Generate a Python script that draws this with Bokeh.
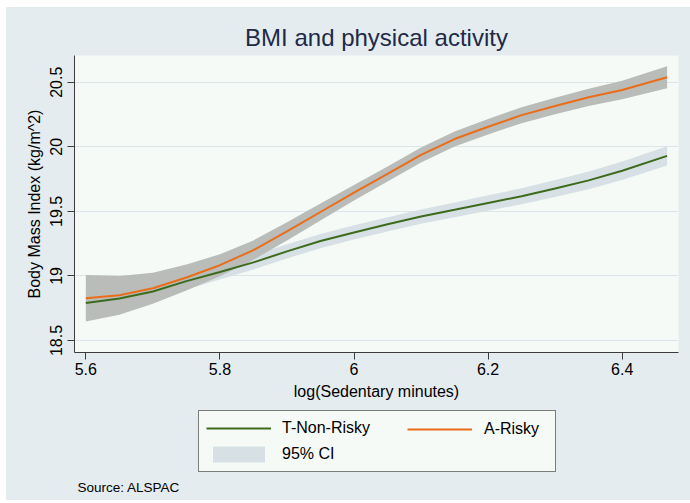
from bokeh.plotting import figure
from bokeh.models import Range1d, FixedTicker, Legend, LegendItem, Label
from bokeh.layouts import column
from bokeh.embed import file_html
from bokeh.resources import INLINE

# ---- data ----
sed_log = [5.6, 5.65, 5.7, 5.75, 5.8, 5.85, 5.9, 5.95, 6.0, 6.05, 6.1, 6.15, 6.2, 6.25, 6.3, 6.35, 6.4, 6.467]

nonrisky_fit = [18.79, 18.825, 18.88, 18.96, 19.03, 19.105, 19.19, 19.27, 19.337, 19.40, 19.46, 19.512, 19.565, 19.617, 19.677, 19.74, 19.815, 19.93]
nonrisky_lo = [18.67, 18.725, 18.80, 18.895, 18.972, 19.05, 19.135, 19.215, 19.282, 19.345, 19.405, 19.455, 19.505, 19.555, 19.612, 19.672, 19.743, 19.855]
nonrisky_hi = [18.91, 18.925, 18.96, 19.025, 19.088, 19.16, 19.245, 19.325, 19.392, 19.455, 19.515, 19.569, 19.625, 19.679, 19.742, 19.808, 19.887, 20.005]

risky_fit = [18.828, 18.85, 18.905, 18.988, 19.083, 19.20, 19.345, 19.495, 19.645, 19.79, 19.937, 20.06, 20.155, 20.245, 20.316, 20.383, 20.44, 20.538]
risky_lo = [18.648, 18.70, 18.785, 18.888, 18.998, 19.125, 19.275, 19.43, 19.585, 19.732, 19.879, 20.002, 20.095, 20.183, 20.252, 20.316, 20.368, 20.453]
risky_hi = [19.008, 19.00, 19.025, 19.088, 19.168, 19.275, 19.415, 19.56, 19.705, 19.848, 19.995, 20.118, 20.215, 20.307, 20.38, 20.45, 20.512, 20.623]

x_ticks = [5.6, 5.8, 6.0, 6.2, 6.4]
x_tick_labels = {5.6: "5.6", 5.8: "5.8", 6.0: "6", 6.2: "6.2", 6.4: "6.4"}
y_ticks = [18.5, 19.0, 19.5, 20.0, 20.5]
y_tick_labels = {18.5: "18.5", 19.0: "19", 19.5: "19.5", 20.0: "20", 20.5: "20.5"}

series_labels = ["T-Non-Risky", "A-Risky", "95% CI"]
source_note = "Source: ALSPAC"

# ---- styling ----
FONT = "Liberation Sans"
GRAPH_BG = "#e4ecef"
PLOT_BG = "#f6faf6"
GREEN = "#3d6b1e"
ORANGE = "#ea6d1b"
CI_LIGHT = "#d7e1e5"
CI_GRAY = "#b9bcb8"

p = figure(
    frame_width=604, frame_height=297,
    x_range=Range1d(5.5831, 6.484), y_range=Range1d(18.407, 20.707),
    output_backend="svg", toolbar_location=None,
    min_border_left=68, min_border_right=12, min_border_top=48, min_border_bottom=56,
    background_fill_color=PLOT_BG, border_fill_color=GRAPH_BG,
    outline_line_color=None,
)

p.title.text = "BMI and physical activity"
p.title.text_font = FONT
p.title.text_font_size = "24px"
p.title.text_font_style = "normal"
p.title.text_color = "#1e2a48"
p.title.align = "center"

ci1 = p.varea(x=sed_log, y1=nonrisky_lo, y2=nonrisky_hi, fill_color=CI_LIGHT)
ci2 = p.varea(x=sed_log, y1=risky_lo, y2=risky_hi, fill_color=CI_GRAY)
l1 = p.line(x=sed_log, y=nonrisky_fit, line_color=GREEN, line_width=2)
l2 = p.line(x=sed_log, y=risky_fit, line_color=ORANGE, line_width=2)

for ax in (p.xaxis, p.yaxis):
    ax.axis_line_color = "#3c3c3c"
    ax.axis_line_width = 1
    ax.major_tick_line_color = "#3c3c3c"
    ax.major_tick_out = 7
    ax.major_tick_in = 0
    ax.minor_tick_line_color = None
    ax.major_label_text_font = FONT
    ax.major_label_text_font_size = "16px"
    ax.major_label_text_color = "black"
    ax.axis_label_text_font = FONT
    ax.axis_label_text_font_size = "16px"
    ax.axis_label_text_font_style = "normal"
    ax.axis_label_text_color = "black"

p.xaxis.ticker = FixedTicker(ticks=x_ticks)
p.xaxis.major_label_overrides = x_tick_labels
p.xaxis.axis_label = "log(Sedentary minutes)"
p.xaxis.major_label_standoff = 3
p.yaxis.ticker = FixedTicker(ticks=y_ticks)
p.yaxis.major_label_overrides = y_tick_labels
p.yaxis.axis_label = "Body Mass Index (kg/m^2)"
p.yaxis.major_label_orientation = "vertical"

p.xgrid.grid_line_color = None
p.ygrid.grid_line_color = "#dbe5ea"
p.ygrid.grid_line_width = 1

# ---- lower strip: legend + source note ----
q = figure(
    width=684, height=92, x_range=Range1d(0, 1), y_range=Range1d(0, 1),
    x_axis_location=None, y_axis_location=None,
    output_backend="svg", toolbar_location=None,
    min_border=0, background_fill_color=GRAPH_BG, border_fill_color=GRAPH_BG,
    outline_line_color=None,
)
q.grid.visible = False
# legend keys only (kept outside the visible range)
k1 = q.line(x=[5, 6], y=[5, 5], line_color=GREEN, line_width=2)
k2 = q.line(x=[5, 6], y=[5, 5], line_color=ORANGE, line_width=2)
k3 = q.varea(x=[5, 6], y1=[5, 5], y2=[6, 6], fill_color=CI_LIGHT)

legend_main = Legend(
    items=[
        LegendItem(label=series_labels[0], renderers=[k1]),
        LegendItem(label=series_labels[2], renderers=[k3]),
    ],
    location=(124, 28),
    glyph_width=65, glyph_height=20, label_standoff=11, label_width=266,
    spacing=6, padding=7, margin=0,
    label_text_font=FONT, label_text_font_size="16px", label_text_color="black",
    border_line_color="black", border_line_width=1,
    background_fill_color=PLOT_BG, background_fill_alpha=1.0,
)
legend_side = Legend(
    items=[LegendItem(label=series_labels[1], renderers=[k2])],
    location=(333, 61),
    glyph_width=65, glyph_height=20, label_standoff=12,
    spacing=0, padding=0, margin=0,
    label_text_font=FONT, label_text_font_size="16px", label_text_color="black",
    border_line_color=None, background_fill_alpha=0.0,
)
q.add_layout(legend_main, "center")
q.add_layout(legend_side, "center")

src = Label(x=3, y=13, x_units="screen", y_units="screen", text=source_note,
            text_font=FONT, text_font_size="13.5px", text_color="black",
            text_baseline="middle", text_align="left")
q.add_layout(src)

layout = column(p, q, spacing=0, styles={"background-color": GRAPH_BG})
layout.margin = (7, 0, 3, 6)

open("out.html", "w").write(file_html(layout, INLINE))
